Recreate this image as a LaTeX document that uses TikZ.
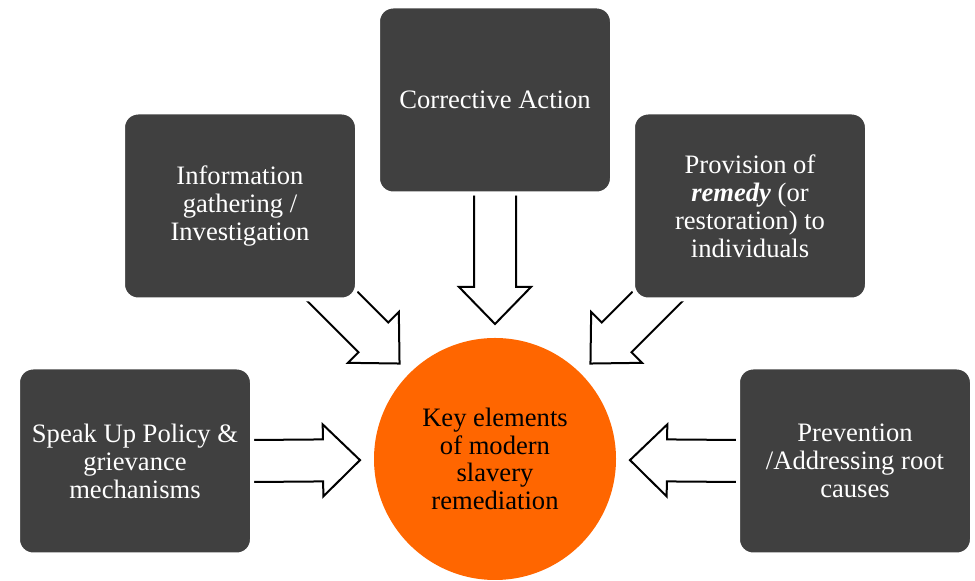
\documentclass[tikz,border=0pt]{standalone}
\usepackage{fontspec}
\setmainfont{Liberation Serif}
\usetikzlibrary{calc,backgrounds}

\definecolor{boxgray}{RGB}{64,64,64}
\definecolor{keyorange}{RGB}{255,102,0}

\tikzset{
  box/.style={rectangle, rounded corners=7.5pt, fill=boxgray, draw=white, line width=2pt,
    text=white, minimum width=117pt, minimum height=93.5pt, align=center, inner sep=2pt,
    font=\fontsize{13.3}{14}\selectfont},
  keycircle/.style={circle, fill=keyorange, minimum size=121pt, inner sep=0pt,
    align=center, font=\fontsize{13.3}{13.7}\selectfont},
  blockarrow/.style={draw=black, fill=white, line width=1pt, line join=miter}
}

% hollow block arrow from #1 to its tip #2 (open at the start)
\newcommand{\blockarrow}[2]{%
  \filldraw[blockarrow]
    ($(#1)!10.5pt!90:(#2)$) --
    ($(#2)!18.5pt!(#1)!10.5pt!-90:(#1)$) --
    ($(#2)!18.5pt!(#1)!18pt!-90:(#1)$) --
    (#2) --
    ($(#2)!18.5pt!(#1)!18pt!90:(#1)$) --
    ($(#2)!18.5pt!(#1)!10.5pt!90:(#1)$) --
    ($(#1)!10.5pt!-90:(#2)$);}

\begin{document}
\begin{tikzpicture}[x=0.5pt, y=-0.5pt]
  \useasboundingbox (0,0) rectangle (975,581);

  % centre
  \node[keycircle] (key) at (495,459) {Key elements\\of modern\\slavery\\remediation};

  % the five elements
  \node[box] (corr) at (495,100) {Corrective Action};
  \node[box] (info) at (240,206) {Information\\gathering /\\Investigation};
  \node[box] (prov) at (750,206) {Provision of\\\textbf{\textit{remedy}} (or\\restoration) to\\individuals};
  \node[box] (speak) at (135,461) {Speak Up Policy \&\\grievance\\mechanisms};
  \node[box] (prev) at (855,461) {Prevention\\/Addressing root\\causes};

  % arrows, under the boxes
  \begin{scope}[on background layer]
    \coordinate (info-start) at (320,284);
    \coordinate (prov-start) at (670,284);
    \coordinate (corr-tip) at ($(key.center)!67.5pt!(corr.south)$);
    \coordinate (info-tip) at ($(key.center)!67.5pt!(info-start)$);
    \coordinate (prov-tip) at ($(key.center)!67.5pt!(prov-start)$);
    \coordinate (speak-tip) at ($(key.center)!67.5pt!(speak.east)$);
    \coordinate (prev-tip) at ($(key.center)!67.5pt!(prev.west)$);
    \blockarrow{corr.south}{corr-tip}
    \blockarrow{info-start}{info-tip}
    \blockarrow{prov-start}{prov-tip}
    \blockarrow{speak.east}{speak-tip}
    \blockarrow{prev.west}{prev-tip}
  \end{scope}
\end{tikzpicture}
\end{document}
